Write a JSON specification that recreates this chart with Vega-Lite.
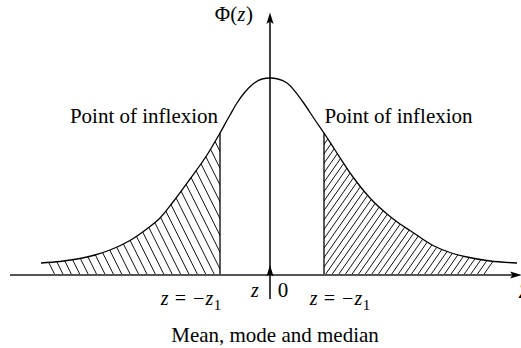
{
  "$schema": "https://vega.github.io/schema/vega-lite/v6.json",
  "width": 521,
  "height": 348,
  "autosize": {"type": "none"},
  "padding": 0,
  "background": "white",
  "config": {"view": {"stroke": null}},
  "datasets": {
    "curve": [
      {"z": -229, "h": 12}, {"z": -210, "h": 13.5}, {"z": -190, "h": 16.5}, {"z": -175, "h": 20},
      {"z": -160, "h": 25}, {"z": -140, "h": 34.5}, {"z": -122, "h": 47}, {"z": -110, "h": 57},
      {"z": -97, "h": 73}, {"z": -80, "h": 96}, {"z": -63, "h": 120}, {"z": -50, "h": 142},
      {"z": -40, "h": 160}, {"z": -33, "h": 172}, {"z": -25, "h": 183}, {"z": -17, "h": 191},
      {"z": -8, "h": 196}, {"z": 0, "h": 197}, {"z": 8, "h": 196}, {"z": 17, "h": 192},
      {"z": 33, "h": 173}, {"z": 45, "h": 155}, {"z": 54, "h": 142}, {"z": 65, "h": 125},
      {"z": 83, "h": 98}, {"z": 100, "h": 77}, {"z": 117, "h": 61}, {"z": 130, "h": 51},
      {"z": 140, "h": 44.5}, {"z": 163, "h": 29.5}, {"z": 180, "h": 22.5}, {"z": 197, "h": 18},
      {"z": 220, "h": 14}, {"z": 247, "h": 12}
    ],
    "hatch": [
      {"x0": -215, "y0": 0, "x1": -325, "y1": 220},
      {"x0": -206.6, "y0": 0, "x1": -316.6, "y1": 220},
      {"x0": -198.2, "y0": 0, "x1": -308.2, "y1": 220},
      {"x0": -189.8, "y0": 0, "x1": -299.8, "y1": 220},
      {"x0": -181.4, "y0": 0, "x1": -291.4, "y1": 220},
      {"x0": -173, "y0": 0, "x1": -283, "y1": 220},
      {"x0": -164.6, "y0": 0, "x1": -274.6, "y1": 220},
      {"x0": -156.2, "y0": 0, "x1": -266.2, "y1": 220},
      {"x0": -147.8, "y0": 0, "x1": -257.8, "y1": 220},
      {"x0": -139.4, "y0": 0, "x1": -249.4, "y1": 220},
      {"x0": -131, "y0": 0, "x1": -241, "y1": 220},
      {"x0": -122.6, "y0": 0, "x1": -232.6, "y1": 220},
      {"x0": -114.2, "y0": 0, "x1": -224.2, "y1": 220},
      {"x0": -105.8, "y0": 0, "x1": -215.8, "y1": 220},
      {"x0": -97.4, "y0": 0, "x1": -207.4, "y1": 220},
      {"x0": -89, "y0": 0, "x1": -199, "y1": 220},
      {"x0": -80.6, "y0": 0, "x1": -190.6, "y1": 220},
      {"x0": -72.2, "y0": 0, "x1": -182.2, "y1": 220},
      {"x0": -63.8, "y0": 0, "x1": -173.8, "y1": 220},
      {"x0": -55.4, "y0": 0, "x1": -165.4, "y1": 220},
      {"x0": -47, "y0": 0, "x1": -157, "y1": 220},
      {"x0": -38.6, "y0": 0, "x1": -148.6, "y1": 220},
      {"x0": -30.2, "y0": 0, "x1": -140.2, "y1": 220},
      {"x0": -21.8, "y0": 0, "x1": -131.8, "y1": 220},
      {"x0": -13.4, "y0": 0, "x1": -123.4, "y1": 220},
      {"x0": -5, "y0": 0, "x1": -115, "y1": 220},
      {"x0": 3.4, "y0": 0, "x1": -106.6, "y1": 220},
      {"x0": 11.8, "y0": 0, "x1": -98.2, "y1": 220},
      {"x0": 20.2, "y0": 0, "x1": -89.8, "y1": 220},
      {"x0": -44, "y0": 0, "x1": 110, "y1": 220},
      {"x0": -37.4, "y0": 0, "x1": 116.6, "y1": 220},
      {"x0": -30.8, "y0": 0, "x1": 123.2, "y1": 220},
      {"x0": -24.2, "y0": 0, "x1": 129.8, "y1": 220},
      {"x0": -17.6, "y0": 0, "x1": 136.4, "y1": 220},
      {"x0": -11, "y0": 0, "x1": 143, "y1": 220},
      {"x0": -4.4, "y0": 0, "x1": 149.6, "y1": 220},
      {"x0": 2.2, "y0": 0, "x1": 156.2, "y1": 220},
      {"x0": 8.8, "y0": 0, "x1": 162.8, "y1": 220},
      {"x0": 15.4, "y0": 0, "x1": 169.4, "y1": 220},
      {"x0": 22, "y0": 0, "x1": 176, "y1": 220},
      {"x0": 28.6, "y0": 0, "x1": 182.6, "y1": 220},
      {"x0": 35.2, "y0": 0, "x1": 189.2, "y1": 220},
      {"x0": 41.8, "y0": 0, "x1": 195.8, "y1": 220},
      {"x0": 48.4, "y0": 0, "x1": 202.4, "y1": 220},
      {"x0": 55, "y0": 0, "x1": 209, "y1": 220},
      {"x0": 61.6, "y0": 0, "x1": 215.6, "y1": 220},
      {"x0": 68.2, "y0": 0, "x1": 222.2, "y1": 220},
      {"x0": 74.8, "y0": 0, "x1": 228.8, "y1": 220},
      {"x0": 81.4, "y0": 0, "x1": 235.4, "y1": 220},
      {"x0": 88, "y0": 0, "x1": 242, "y1": 220},
      {"x0": 94.6, "y0": 0, "x1": 248.6, "y1": 220},
      {"x0": 101.2, "y0": 0, "x1": 255.2, "y1": 220},
      {"x0": 107.8, "y0": 0, "x1": 261.8, "y1": 220},
      {"x0": 114.4, "y0": 0, "x1": 268.4, "y1": 220},
      {"x0": 121, "y0": 0, "x1": 275, "y1": 220},
      {"x0": 127.6, "y0": 0, "x1": 281.6, "y1": 220},
      {"x0": 134.2, "y0": 0, "x1": 288.2, "y1": 220},
      {"x0": 140.8, "y0": 0, "x1": 294.8, "y1": 220},
      {"x0": 147.4, "y0": 0, "x1": 301.4, "y1": 220},
      {"x0": 154, "y0": 0, "x1": 308, "y1": 220},
      {"x0": 160.6, "y0": 0, "x1": 314.6, "y1": 220},
      {"x0": 167.2, "y0": 0, "x1": 321.2, "y1": 220},
      {"x0": 173.8, "y0": 0, "x1": 327.8, "y1": 220},
      {"x0": 180.4, "y0": 0, "x1": 334.4, "y1": 220},
      {"x0": 187, "y0": 0, "x1": 341, "y1": 220},
      {"x0": 193.6, "y0": 0, "x1": 347.6, "y1": 220},
      {"x0": 200.2, "y0": 0, "x1": 354.2, "y1": 220},
      {"x0": 206.8, "y0": 0, "x1": 360.8, "y1": 220},
      {"x0": 213.4, "y0": 0, "x1": 367.4, "y1": 220}
    ]
  },
  "layer": [
    {
      "data": {"name": "hatch"},
      "mark": {"type": "rule", "clip": true, "color": "#111", "strokeWidth": 1},
      "encoding": {
        "x": {"field": "x0", "type": "quantitative", "scale": {"domain": [-270, 251], "nice": false, "zero": false}, "axis": null},
        "y": {"field": "y0", "type": "quantitative", "scale": {"domain": [-73, 275], "nice": false, "zero": false}, "axis": null},
        "x2": {"field": "x1"},
        "y2": {"field": "y1"}
      }
    },
    {
      "data": {"values": [{"a": -270, "b": -226}, {"a": -50, "b": 54}, {"a": 244, "b": 251}]},
      "mark": {"type": "rect", "fill": "white", "stroke": null},
      "encoding": {
        "x": {"field": "a", "type": "quantitative", "scale": {"domain": [-270, 251], "nice": false, "zero": false}, "axis": null},
        "x2": {"field": "b"},
        "y": {"datum": 0, "type": "quantitative", "scale": {"domain": [-73, 275], "nice": false, "zero": false}, "axis": null},
        "y2": {"datum": 275}
      }
    },
    {
      "data": {"name": "curve"},
      "mark": {"type": "area", "fill": "white", "interpolate": "monotone"},
      "encoding": {
        "x": {"field": "z", "type": "quantitative", "scale": {"domain": [-270, 251], "nice": false, "zero": false}, "axis": null},
        "y": {"field": "h", "type": "quantitative", "scale": {"domain": [-73, 275], "nice": false, "zero": false}, "axis": null},
        "y2": {"datum": 275}
      }
    },
    {
      "data": {"name": "curve"},
      "mark": {"type": "line", "color": "black", "strokeWidth": 1.3, "interpolate": "monotone"},
      "encoding": {
        "x": {"field": "z", "type": "quantitative", "scale": {"domain": [-270, 251], "nice": false, "zero": false}, "axis": null},
        "y": {"field": "h", "type": "quantitative", "scale": {"domain": [-73, 275], "nice": false, "zero": false}, "axis": null}
      }
    },
    {
      "data": {"values": [{"z": -50, "h": 142}, {"z": 54, "h": 142}]},
      "mark": {"type": "rule", "color": "black", "strokeWidth": 1.3},
      "encoding": {
        "x": {"field": "z", "type": "quantitative", "scale": {"domain": [-270, 251], "nice": false, "zero": false}, "axis": null},
        "y": {"field": "h", "type": "quantitative", "scale": {"domain": [-73, 275], "nice": false, "zero": false}, "axis": null},
        "y2": {"datum": 0}
      }
    },
    {
      "data": {"values": [{}]},
      "mark": {"type": "rule", "color": "#555", "strokeWidth": 2},
      "encoding": {
        "x": {"datum": -260, "type": "quantitative", "scale": {"domain": [-270, 251], "nice": false, "zero": false}, "axis": null},
        "x2": {"datum": 246},
        "y": {"datum": 0, "type": "quantitative", "scale": {"domain": [-73, 275], "nice": false, "zero": false}, "axis": null}
      }
    },
    {
      "data": {"values": [{}]},
      "mark": {"type": "rule", "color": "black", "strokeWidth": 1.5},
      "encoding": {
        "x": {"datum": 0, "type": "quantitative", "scale": {"domain": [-270, 251], "nice": false, "zero": false}, "axis": null},
        "y": {"datum": -24, "type": "quantitative", "scale": {"domain": [-73, 275], "nice": false, "zero": false}, "axis": null},
        "y2": {"datum": 256}
      }
    },
    {
      "data": {"values": [{"z": 0, "h": 256}, {"z": 0, "h": 3.5}]},
      "mark": {"type": "point", "filled": true, "color": "black", "opacity": 1, "size": 169, "shape": "M0,-1L0.55,0.75L0,0.4L-0.55,0.75Z"},
      "encoding": {
        "x": {"field": "z", "type": "quantitative", "scale": {"domain": [-270, 251], "nice": false, "zero": false}, "axis": null},
        "y": {"field": "h", "type": "quantitative", "scale": {"domain": [-73, 275], "nice": false, "zero": false}, "axis": null}
      }
    },
    {
      "data": {"values": [{"z": 245, "h": 0}]},
      "mark": {"type": "point", "filled": true, "color": "black", "opacity": 1, "size": 169, "shape": "M1,0L-0.75,0.55L-0.4,0L-0.75,-0.55Z"},
      "encoding": {
        "x": {"field": "z", "type": "quantitative", "scale": {"domain": [-270, 251], "nice": false, "zero": false}, "axis": null},
        "y": {"field": "h", "type": "quantitative", "scale": {"domain": [-73, 275], "nice": false, "zero": false}, "axis": null}
      }
    },
    {
      "data": {"values": [
        {"label": "Point of inflexion", "z": -126, "h": 152},
        {"label": "Point of inflexion", "z": 128.5, "h": 152},
        {"label": "Mean, mode and median", "z": 5, "h": -67},
        {"label": "Φ(", "z": -44, "h": 254},
        {"label": ")", "z": -20.5, "h": 254},
        {"label": "0", "z": 13, "h": -22}
      ]},
      "mark": {"type": "text", "font": "Liberation Serif", "fontSize": 21, "color": "black", "align": "center", "baseline": "alphabetic"},
      "encoding": {
        "x": {"field": "z", "type": "quantitative", "scale": {"domain": [-270, 251], "nice": false, "zero": false}, "axis": null},
        "y": {"field": "h", "type": "quantitative", "scale": {"domain": [-73, 275], "nice": false, "zero": false}, "axis": null},
        "text": {"field": "label"}
      }
    },
    {
      "data": {"values": [
        {"label": "z = −z", "z": -83, "h": -30},
        {"label": "z = −z", "z": 66, "h": -30},
        {"label": "z", "z": -15, "h": -22},
        {"label": "z", "z": -28.5, "h": 254},
        {"label": "Z", "z": 254, "h": -23}
      ]},
      "mark": {"type": "text", "font": "Liberation Serif", "fontSize": 20, "fontStyle": "italic", "color": "black", "align": "center", "baseline": "alphabetic"},
      "encoding": {
        "x": {"field": "z", "type": "quantitative", "scale": {"domain": [-270, 251], "nice": false, "zero": false}, "axis": null},
        "y": {"field": "h", "type": "quantitative", "scale": {"domain": [-73, 275], "nice": false, "zero": false}, "axis": null},
        "text": {"field": "label"}
      }
    },
    {
      "data": {"values": [
        {"label": "1", "z": -52.5, "h": -35},
        {"label": "1", "z": 96.5, "h": -35}
      ]},
      "mark": {"type": "text", "font": "Liberation Serif", "fontSize": 15, "color": "black", "align": "center", "baseline": "alphabetic"},
      "encoding": {
        "x": {"field": "z", "type": "quantitative", "scale": {"domain": [-270, 251], "nice": false, "zero": false}, "axis": null},
        "y": {"field": "h", "type": "quantitative", "scale": {"domain": [-73, 275], "nice": false, "zero": false}, "axis": null},
        "text": {"field": "label"}
      }
    }
  ]
}
